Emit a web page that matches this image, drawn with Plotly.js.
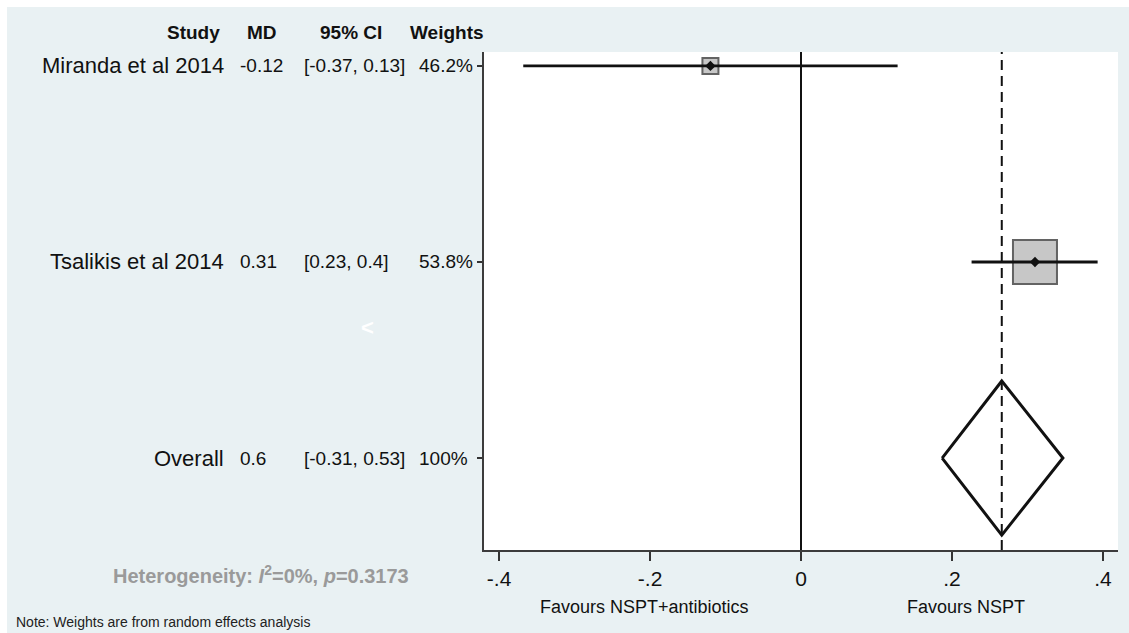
<!DOCTYPE html>
<html>
<head>
<meta charset="utf-8">
<script src="https://cdn.plot.ly/plotly-3.0.1.min.js"></script>
<style>
  html, body { margin: 0; padding: 0; background: #ffffff; width: 1129px; height: 633px; overflow: hidden; }
  #chart { position: absolute; left: 7px; top: 7px; width: 1122px; height: 626px; }
</style>
</head>
<body>
<div id="chart"></div>
<script>
// ---- data ----
const studies = ['Miranda et al 2014', 'Tsalikis et al 2014'];
const md = [-0.12, 0.31];
const ciLow = [-0.368, 0.226];
const ciHigh = [0.128, 0.393];
const mdLabels = ['-0.12', '0.31'];
const ciLabels = ['[-0.37, 0.13]', '[0.23, 0.4]'];
const weightLabels = ['46.2%', '53.8%'];

const overallName = 'Overall';
const overallEst = 0.266;
const overallLow = 0.187;
const overallHigh = 0.347;
const overallMdLabel = '0.6';
const overallCiLabel = '[-0.31, 0.53]';
const overallWeightLabel = '100%';

const xTickVals = [-0.4, -0.2, 0, 0.2, 0.4];
const xTickText = ['-.4', '-.2', '0', '.2', '.4'];
const headers = ['Study', 'MD', '95% CI', 'Weights'];
const favourLabels = ['Favours NSPT+antibiotics', 'Favours NSPT'];
const heterogeneityText = '<b>Heterogeneity: <i>I</i><sup>2</sup>=0%, <i>p</i>=0.3173</b>';
const noteText = 'Note: Weights are from random effects analysis';

// ---- styles ----
const boxSizes = [16, 44];
const diamondHalfHeight = 0.393;
const FONT = 'Arial, "Liberation Sans", Helvetica, sans-serif';
const BG = '#e9f1f3';

// rows: studies top to bottom, overall last
const nRows = studies.length + 1;
const rowY = studies.map((s, i) => nRows - i);
const overallY = 1;

const traces = [];
// boxes
traces.push({
  type: 'scatter', mode: 'markers', x: md, y: rowY,
  marker: { symbol: 'square', size: boxSizes, color: '#b0b0b0', line: { color: '#222', width: 2 } },
  hoverinfo: 'skip', showlegend: false
});
// CI lines
studies.forEach((s, i) => {
  traces.push({
    type: 'scatter', mode: 'lines', x: [ciLow[i], ciHigh[i]], y: [rowY[i], rowY[i]],
    line: { color: '#111', width: 2.8 }, hoverinfo: 'skip', showlegend: false
  });
});
// centre dots
traces.push({
  type: 'scatter', mode: 'markers', x: md, y: rowY,
  marker: { symbol: 'diamond', size: 8, color: '#111' },
  hoverinfo: 'skip', showlegend: false
});
// overall diamond
traces.push({
  type: 'scatter', mode: 'lines',
  x: [overallLow, overallEst, overallHigh, overallEst, overallLow],
  y: [overallY, overallY + diamondHalfHeight, overallY, overallY - diamondHalfHeight, overallY],
  line: { color: '#111', width: 3 }, hoverinfo: 'skip', showlegend: false
});

// annotations
const ann = [];
const colX = { studyRight: -0.4069, md: -0.388, ci: -0.2871, w: -0.1057 };
const rowFontName = { family: FONT, size: 22, color: '#111' };
const rowFontStat = { family: FONT, size: 19, color: '#111' };
const allNames = studies.concat([overallName]);
const allMd = mdLabels.concat([overallMdLabel]);
const allCi = ciLabels.concat([overallCiLabel]);
const allW = weightLabels.concat([overallWeightLabel]);
const allY = rowY.concat([overallY]);
allNames.forEach((n, i) => {
  ann.push({ text: n, xref: 'paper', yref: 'y', x: colX.studyRight, y: allY[i], xanchor: 'right', yanchor: 'middle', showarrow: false, font: rowFontName });
  ann.push({ text: allMd[i], xref: 'paper', yref: 'y', x: colX.md, y: allY[i], xanchor: 'left', yanchor: 'middle', showarrow: false, font: rowFontStat });
  ann.push({ text: allCi[i], xref: 'paper', yref: 'y', x: colX.ci, y: allY[i], xanchor: 'left', yanchor: 'middle', showarrow: false, font: rowFontStat });
  ann.push({ text: allW[i], xref: 'paper', yref: 'y', x: colX.w, y: allY[i], xanchor: 'left', yanchor: 'middle', showarrow: false, font: rowFontStat });
});
// headers
const headerPos = [[-0.4132, 'right'], [-0.3502, 'center'], [-0.2098, 'center'], [-0.0584, 'center']];
headers.forEach((h, i) => {
  ann.push({ text: '<b>' + h + '</b>', xref: 'paper', yref: 'paper', x: headerPos[i][0], y: 1.0382, xanchor: headerPos[i][1], yanchor: 'middle', showarrow: false, font: { family: FONT, size: 19, color: '#111' } });
});
// favours
ann.push({ text: favourLabels[0], xref: 'paper', yref: 'paper', x: 0.2524, y: -0.1145, xanchor: 'center', yanchor: 'middle', showarrow: false, font: { family: FONT, size: 18, color: '#111' } });
ann.push({ text: favourLabels[1], xref: 'paper', yref: 'paper', x: 0.7603, y: -0.1145, xanchor: 'center', yanchor: 'middle', showarrow: false, font: { family: FONT, size: 18, color: '#111' } });
// heterogeneity
ann.push({ text: heterogeneityText, xref: 'paper', yref: 'paper', x: -0.3517, y: -0.0502, xanchor: 'center', yanchor: 'middle', showarrow: false, font: { family: FONT, size: 20, color: '#9a9a9a' } });
// note
ann.push({ text: noteText, xref: 'paper', yref: 'paper', x: -0.7413, y: -0.1446, xanchor: 'left', yanchor: 'middle', showarrow: false, font: { family: FONT, size: 14, color: '#222' } });
// stray white glyph
ann.push({ text: '<b>&lt;</b>', xref: 'paper', yref: 'paper', x: -0.183, y: 0.4458, xanchor: 'center', yanchor: 'middle', showarrow: false, font: { family: FONT, size: 22, color: '#ffffff' } });

const layout = {
  width: 1122, height: 626,
  margin: { l: 477, r: 11, t: 45, b: 83, pad: 0 },
  paper_bgcolor: BG, plot_bgcolor: '#ffffff',
  showlegend: false,
  xaxis: {
    range: [-0.42, 0.42], tickvals: xTickVals, ticktext: xTickText,
    ticks: 'outside', ticklen: 9, tickwidth: 1.5, tickcolor: '#333',
    showline: true, linecolor: '#3c3c3c', linewidth: 2,
    showgrid: false, zeroline: true, zerolinecolor: '#111', zerolinewidth: 2,
    tickfont: { family: FONT, size: 21, color: '#111' }, fixedrange: true
  },
  yaxis: {
    range: [0.531, 3.071], tickvals: allY, showticklabels: false,
    ticks: 'outside', ticklen: 5, tickwidth: 1.5, tickcolor: '#333',
    showline: true, linecolor: '#3c3c3c', linewidth: 2,
    showgrid: false, zeroline: false, fixedrange: true
  },
  shapes: [{
    type: 'line', xref: 'x', yref: 'paper', x0: overallEst, x1: overallEst, y0: 0, y1: 1,
    line: { color: '#111', width: 2, dash: '10px,6px' }, layer: 'below'
  }],
  annotations: ann
};

Plotly.newPlot('chart', traces, layout, { displayModeBar: false, staticPlot: true });
</script>
</body>
</html>
